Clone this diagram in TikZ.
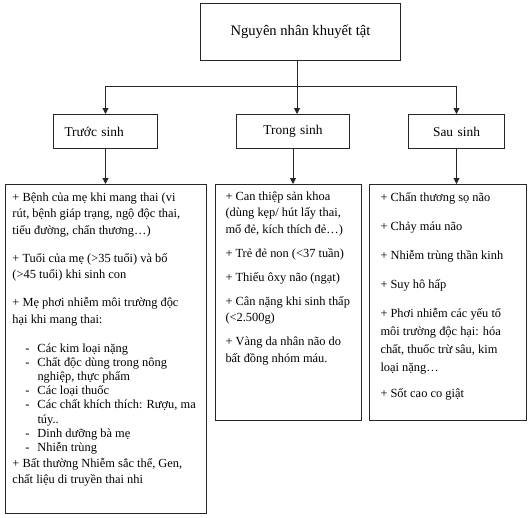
\documentclass[tikz,border=0pt]{standalone}
\usepackage{fontspec}
\setmainfont{Liberation Serif}
\usetikzlibrary{arrows.meta,positioning}
\newcommand{\headfont}{\fontsize{14.6}{17}\selectfont}
\newcommand{\stagefont}{\fontsize{13.4}{16}\selectfont}
\newcommand{\causefont}[1]{\fontsize{12.4}{#1}\selectfont}
\newcommand{\causepar}[3]{\parbox[t][#2][t]{#1}{\raggedright #3}}
\newcommand{\itemdash}{\makebox[25pt][l]{\hspace{13pt}-}}

\begin{document}
\begin{tikzpicture}[x=1pt, y=-1pt,
    boxline/.style={line width=1pt, draw=black!85},
    arr/.style={boxline, -{Triangle[length=6pt,width=6pt]}},
    headbox/.style={boxline, anchor=north west, minimum width=200pt, minimum height=57pt, inner sep=0pt, font=\headfont},
    stagebox/.style={boxline, anchor=north west, text width=#1, minimum height=34pt, inner xsep=0pt, align=center, font=\stagefont},
    causebox/.style={boxline, anchor=north west, inner ysep=0pt, inner xsep=#1}]
  \useasboundingbox (0,0) rectangle (529,517);

  % top level
  \node[headbox] (head) at (200,3) {Nguyên nhân khuyết tật};

  % stages
  \node[stagebox=82pt, align=left, inner xsep=11pt] (truoc) at (53,114) {Trước sinh};
  \node[stagebox=113pt] (trong) at (236,114) {Trong sinh};
  \node[stagebox=96pt] (sau) at (408,114) {Sau sinh};

  % causes
  \node[causebox=7pt, font=\causefont{16.5}] (pre) at (5,184) {\causepar{187pt}{329pt}{%
    \rule{0pt}{16.5pt}+ Bệnh của mẹ khi mang thai (vi\\
    rút, bệnh giáp trạng, ngộ độc thai,\\
    tiểu đường, chấn thương…)\\[11.5pt]
    + Tuổi của mẹ (>35 tuổi) và bố\\
    (>45 tuổi) khi sinh con\\[11.5pt]
    + Mẹ phơi nhiễm môi trường độc\\
    hại khi mang thai:\\[12.5pt]
    \itemdash Các kim loại nặng\\[-2.3pt]
    \itemdash Chất độc dùng trong nông\\[-2.3pt]
    \hspace*{25pt}nghiệp, thực phẩm\\[-2.3pt]
    \itemdash Các loại thuốc\\[-2.3pt]
    \itemdash Các chất khích thích: Rượu, ma\\[-2.3pt]
    \hspace*{25pt}túy..\\[-2.3pt]
    \itemdash Dinh dưỡng bà mẹ\\[-2.3pt]
    \itemdash Nhiễn trùng\\[-0.5pt]
    + Bất thường Nhiễm sắc thể, Gen,\\
    chất liệu di truyền thai nhi}};
  \node[causebox=10pt, font=\causefont{16.5}] (intra) at (215,184) {\causepar{126pt}{236pt}{%
    \rule{0pt}{15.5pt}+ Can thiệp sản khoa\\
    (dùng kẹp/ hút lấy thai,\\
    mổ đẻ, kích thích đẻ…)\\[7.5pt]
    + Trẻ đẻ non (<37 tuần)\\[7.5pt]
    + Thiếu ôxy não (ngạt)\\[7.5pt]
    + Cân nặng khi sinh thấp\\
    (<2.500g)\\[7.5pt]
    + Vàng da nhân não do\\
    bất đồng nhóm máu.}};
  \node[causebox=11pt, font=\causefont{18}] (post) at (369,184) {\causepar{135pt}{236pt}{%
    \rule{0pt}{17pt}+ Chấn thương sọ não\\[11pt]
    + Chảy máu não\\[11pt]
    + Nhiễm trùng thần kinh\\[11pt]
    + Suy hô hấp\\[11pt]
    + Phơi nhiễm các yếu tố\\
    môi trường độc hại: hóa\\
    chất, thuốc trừ sâu, kim\\
    loại nặng…\\[8pt]
    + Sốt cao co giật}};

  % connectors
  \coordinate (fork) at (297,86);
  \draw[arr] (head.south -| fork) -- (fork |- trong.north);
  \draw[boxline] (truoc.north |- fork) -- (sau.north |- fork);
  \draw[arr] (truoc.north |- fork) -- (truoc.north);
  \draw[arr] (sau.north |- fork) -- (sau.north);
  \draw[arr] (truoc.south) -- (truoc.south |- pre.north);
  \draw[arr] (trong.south) -- (trong.south |- intra.north);
  \draw[arr] (sau.south) -- (sau.south |- post.north);
\end{tikzpicture}
\end{document}
